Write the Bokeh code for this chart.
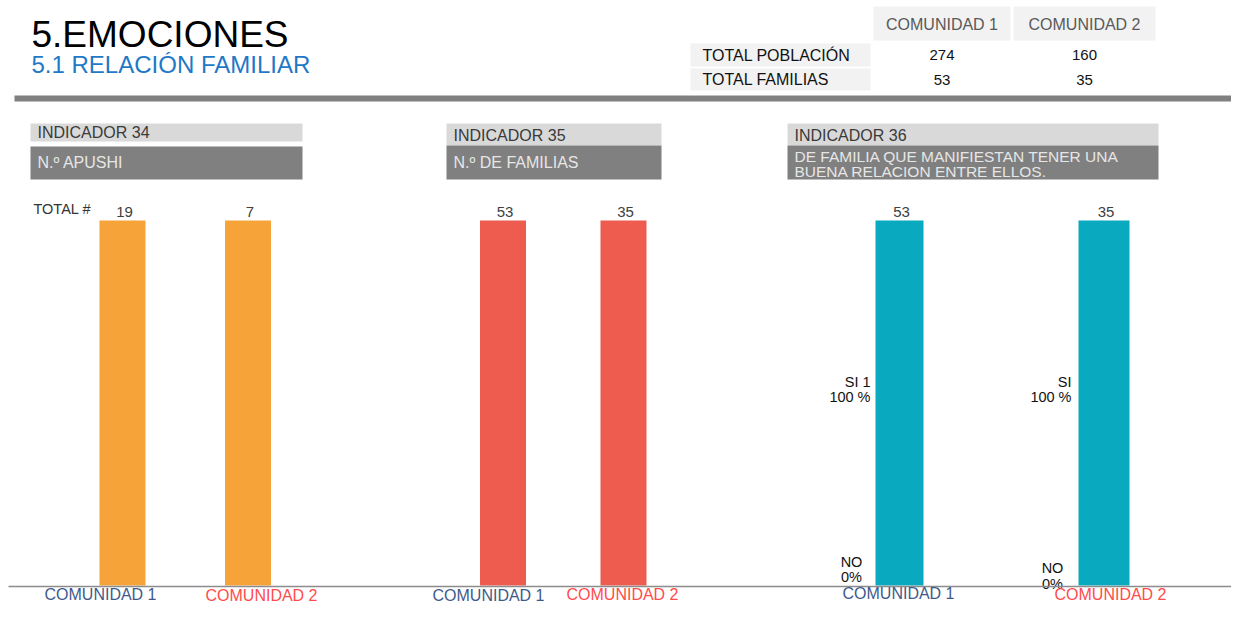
from bokeh.plotting import figure
from bokeh.models import Range1d
from bokeh.core.properties import value
from bokeh.embed import file_html
from bokeh.resources import INLINE

# ---------------- data ----------------
communities = ["COMUNIDAD 1", "COMUNIDAD 2"]
table_rows = ["TOTAL POBLACIÓN", "TOTAL FAMILIAS"]
total_poblacion = [274, 160]
total_familias = [53, 35]

indicator_titles = ["INDICADOR 34", "INDICADOR 35", "INDICADOR 36"]
indicator_desc = [["N.º  APUSHI"], ["N.º DE FAMILIAS"],
                  ["DE FAMILIA QUE MANIFIESTAN TENER UNA", "BUENA RELACION ENTRE ELLOS."]]

ind34_values = [19, 7]
ind35_values = [53, 35]
ind36_values = [53, 35]
# bar heights as drawn in the reference (each bar fills its own 100 %)
ind34_bar_pct = [100, 100]
ind35_bar_pct = [100, 100]
ind36_si_pct = [100, 100]
ind36_no_pct = [0, 0]
ind36_si_labels = ["SI 1", "SI"]
ind36_no_labels = ["NO", "NO"]

# ---------------- layout / style ----------------
FONT = value("Liberation Sans")
W, H = 1231, 604
BASE_Y, TOP_Y = 585.0, 220.0
PX_PER_PCT = (BASE_Y - TOP_Y) / 100.0

p = figure(width=W, height=H, output_backend="svg", toolbar_location=None,
           x_range=Range1d(0, W), y_range=Range1d(H, 0),
           min_border=0, outline_line_color=None, background_fill_color="white")
p.extra_y_ranges = {"pct": Range1d(start=(BASE_Y - H) / PX_PER_PCT,
                                   end=BASE_Y / PX_PER_PCT)}
p.xaxis.visible = False
p.yaxis.visible = False
p.grid.visible = False

# ---- header titles ----
p.text(x=[31], y=[54], text=["5.EMOCIONES"], text_font=FONT, text_font_size="37px",
       text_color="#000000", text_baseline="bottom", text_align="left")
p.text(x=[31], y=[77], text=["5.1 RELACIÓN FAMILIAR"], text_font=FONT, text_font_size="24px",
       text_color="#1F78C8", text_baseline="bottom", text_align="left")

# ---- header table ----
col_left = [873, 1013]
col_right = [1010, 1155]
col_center = [(a + b) / 2 for a, b in zip(col_left, col_right)]
p.quad(left=col_left, right=col_right, top=[6, 6], bottom=[40, 40],
       fill_color="#F2F2F2", line_color=None)
p.text(x=col_center, y=[24, 24], text=communities, text_font=FONT, text_font_size="16px",
       text_color="#595959", text_align="center", text_baseline="middle")
row_top = [43, 68]
row_bot = [66, 90]
p.quad(left=[690, 690], right=[870, 870], top=row_top, bottom=row_bot,
       fill_color="#F2F2F2", line_color=None)
row_mid = [(a + b) / 2 for a, b in zip(row_top, row_bot)]
p.text(x=[702, 702], y=row_mid, text=table_rows, text_font=FONT, text_font_size="16px",
       text_color="#111111", text_align="left", text_baseline="middle")
for ci in range(2):
    p.text(x=[col_center[ci], col_center[ci]], y=row_mid,
           text=[str(total_poblacion[ci]), str(total_familias[ci])],
           text_font=FONT, text_font_size="15px", text_color="#111111",
           text_align="center", text_baseline="middle")

# ---- thick gray rule ----
p.quad(left=[14], right=[1247], top=[95], bottom=[101], fill_color="#808080", line_color=None)

# ---- indicator boxes ----
box_left = [30, 446, 787]
box_right = [302, 661, 1158]
light_top = [123, 123, 123]
light_bot = [141, 145, 145]
dark_top = [146, 145, 145]
dark_bot = [179, 179, 179]
p.quad(left=box_left, right=box_right, top=light_top, bottom=light_bot,
       fill_color="#D9D9D9", line_color=None)
p.quad(left=box_left, right=box_right, top=dark_top, bottom=dark_bot,
       fill_color="#808080", line_color=None)
p.text(x=[b + 7 for b in box_left], y=[132, 135, 135],
       text=indicator_titles, text_font=FONT, text_font_size="16px", text_color="#3A3A3A",
       text_align="left", text_baseline="middle")
desc_y = [[162], [162], [155.5, 170.5]]
desc_size = ["16px", "16px", "15.5px"]
for i in range(3):
    p.text(x=[box_left[i] + 7] * len(indicator_desc[i]), y=desc_y[i], text=indicator_desc[i],
           text_font=FONT, text_font_size=desc_size[i], text_color="#E6E6E6",
           text_align="left", text_baseline="middle")

# ---- bars ----
panels = [
    dict(x=[122, 247.5], w=[46, 46], pct=ind34_bar_pct, vals=ind34_values, color="#F6A33A"),
    dict(x=[502.5, 623], w=[46, 46], pct=ind35_bar_pct, vals=ind35_values, color="#EE5B4F"),
    dict(x=[899, 1103.5], w=[48, 51], pct=ind36_si_pct, vals=ind36_values, color="#09A9C0"),
]
for pn in panels:
    p.vbar(x=pn["x"], width=pn["w"], top=pn["pct"], bottom=0, y_range_name="pct",
           fill_color=pn["color"], line_color=None)
    p.text(x=[x + 2 for x in pn["x"]], y=pn["pct"], y_range_name="pct",
           text=[str(v) for v in pn["vals"]],
           y_offset=-4, text_font=FONT, text_font_size="15px", text_color="#404040",
           text_align="center", text_baseline="bottom")

p.text(x=[33], y=[216], text=["TOTAL #"], text_font=FONT, text_font_size="14.5px",
       text_color="#333333", text_align="left", text_baseline="bottom")

# ---- indicator 36 SI / NO labels ----
p.text(x=[870, 1071], y=[389, 389], text=ind36_si_labels, text_font=FONT, text_font_size="14.5px",
       text_color="#111111", text_align="right", text_baseline="bottom")
p.text(x=[870, 1071], y=[404, 404], text=[f"{v} %" for v in ind36_si_pct], text_font=FONT,
       text_font_size="14.5px", text_color="#111111", text_align="right", text_baseline="bottom")
p.text(x=[851, 1052], y=[569, 575], text=ind36_no_labels, text_font=FONT, text_font_size="14.5px",
       text_color="#111111", text_align="center", text_baseline="bottom")
p.text(x=[851, 1052], y=[584, 591], text=[f"{v}%" for v in ind36_no_pct], text_font=FONT,
       text_font_size="14.5px", text_color="#111111", text_align="center", text_baseline="bottom")

# ---- baseline ----
p.segment(x0=[8], x1=[1247], y0=[586], y1=[586], line_color="#8C8C8C", line_width=1.5)

# ---- category labels ----
cat_x = [[100, 261], [488, 622], [898, 1110]]
cat_y = [[602, 603.5], [603.5, 602], [601, 602]]
for i in range(3):
    p.text(x=cat_x[i], y=cat_y[i], text=communities, text_font=FONT, text_font_size="16px",
           text_color=["#3F5A8A", "#FF4B4B"], text_align="center", text_baseline="bottom")

open("out.html", "w").write(file_html(p, INLINE))
